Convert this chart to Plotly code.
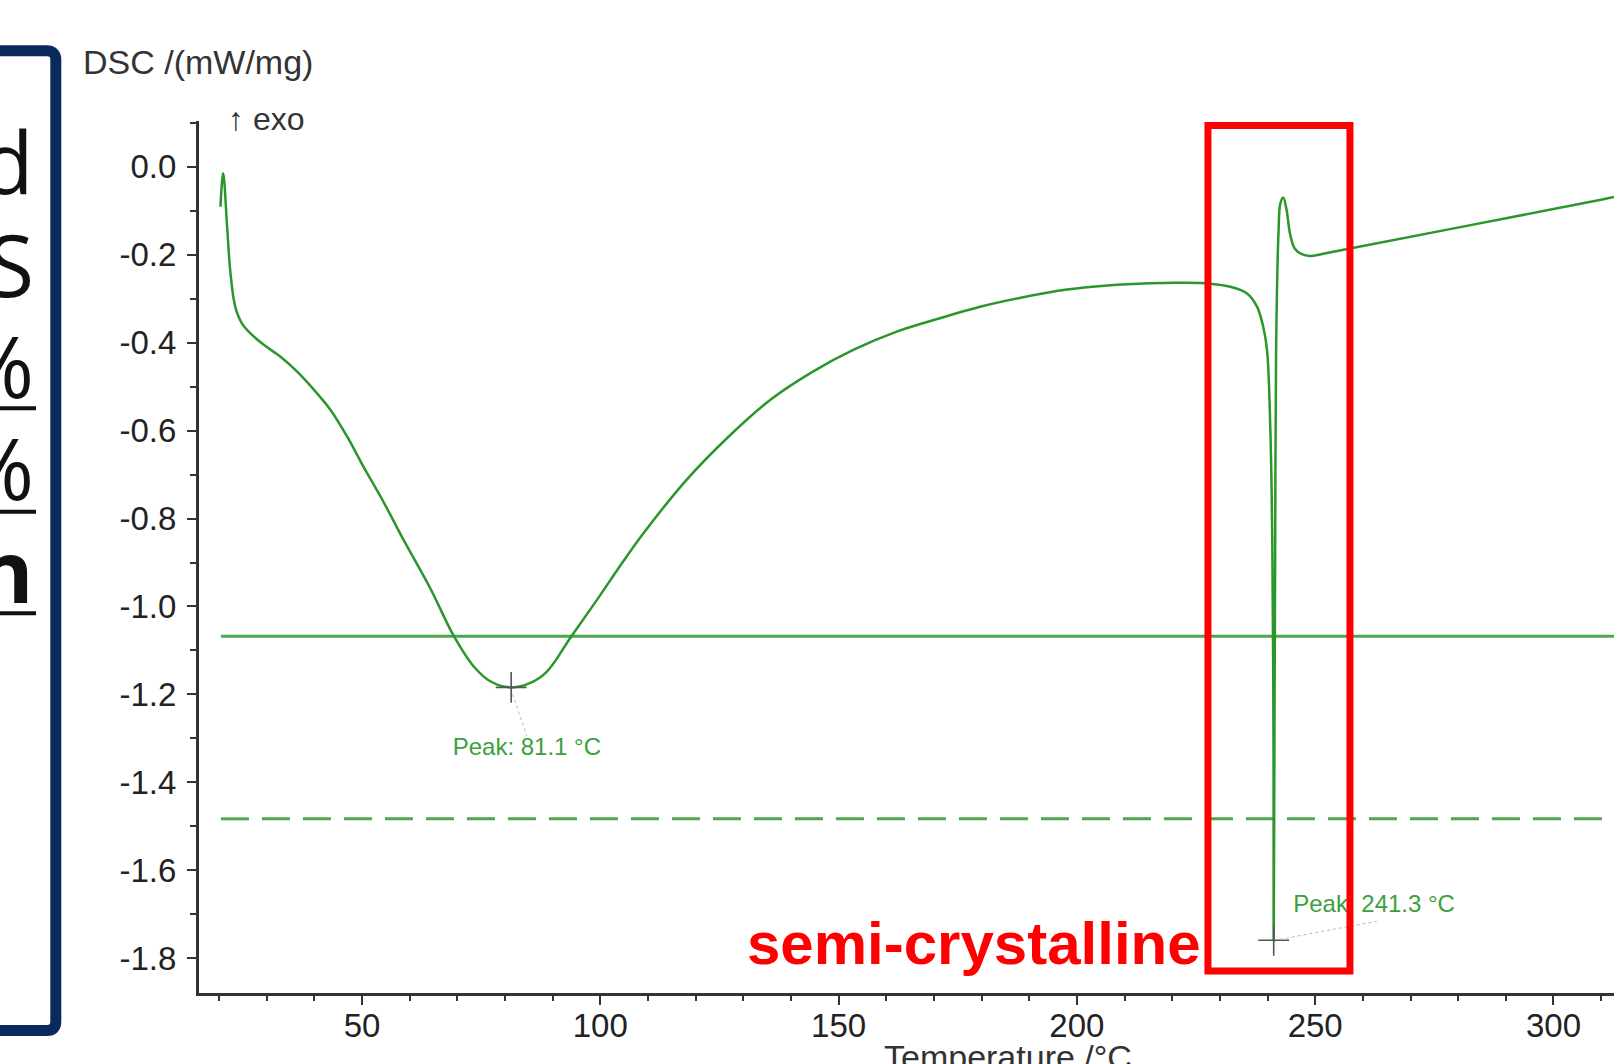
import plotly.graph_objects as go

# ---------------- data ----------------
temp = [20.3, 20.87, 21.7, 22.4, 23.4, 24.8, 26.6, 29.4, 32.9, 36.4, 39.9, 43.4, 46.9,
        50.3, 54.5, 58.7, 64.3, 69.2, 73.4, 76.9, 81.3, 85.3, 88.8, 93.8, 99.3, 104.9,
        109.3, 118.1, 126.9, 135.7, 144.6, 153.4, 162.2, 171.1, 179.9, 188.7, 197.5,
        206.4, 215.2, 222.3, 228.0, 232.2, 235.7, 237.8, 239.1, 239.9, 240.6, 241.0,
        241.25, 241.3, 241.45, 241.6, 241.8, 242.3, 242.7, 243.3, 244.0, 244.7, 245.7,
        247.2, 248.9, 251.7, 257.3, 310.5, 312.7]
dsc = [-0.091, -0.015, -0.136, -0.242, -0.318, -0.356, -0.379, -0.405, -0.432, -0.466,
       -0.507, -0.553, -0.614, -0.682, -0.762, -0.848, -0.958, -1.066, -1.136, -1.170,
       -1.184, -1.174, -1.148, -1.070, -0.985, -0.896, -0.830, -0.712, -0.614, -0.530,
       -0.466, -0.415, -0.375, -0.345, -0.318, -0.297, -0.280, -0.270, -0.265, -0.264,
       -0.266, -0.273, -0.288, -0.318, -0.364, -0.417, -0.600, -0.850, -1.300, -1.759,
       -1.300, -0.900, -0.417, -0.151, -0.083, -0.070, -0.098, -0.151, -0.186, -0.199,
       -0.203, -0.198, -0.186, -0.074, -0.069]

peak_temp = [81.3, 241.3]
peak_dsc = [-1.184, -1.759]
peak_labels = ["Peak: 81.1 °C", "Peak: 241.3 °C"]

level_solid = -1.068
level_dashed = -1.483
level_x = [20.4, 312.7]

x_tick_vals = [50, 100, 150, 200, 250, 300]
x_tick_text = ["50", "100", "150", "200", "250", "300"]
y_tick_vals = [0.0, -0.2, -0.4, -0.6, -0.8, -1.0, -1.2, -1.4, -1.6, -1.8]
y_tick_text = ["0.0", "-0.2", "-0.4", "-0.6", "-0.8", "-1.0", "-1.2", "-1.4", "-1.6", "-1.8"]

box_letters = ["d", "S", "%", "%", "<b>n</b>"]

# ---------------- layout helpers (pixels -> paper) ----------------
W, H = 1614, 1064
ML, MR, MT, MB = 199, 0, 121, 71
PW, PH = W - ML - MR, H - MT - MB


def px(x):
    return (x - ML) / PW


def py(y):
    return (H - MB - y) / PH


GREEN = "#2b962b"
LINE_GREEN = "#4ea64e"
LABEL_GREEN = "#3ca03c"
AXIS = "#333333"
FONT = "Liberation Sans, Arial, sans-serif"

fig = go.Figure()

fig.add_trace(go.Scatter(x=level_x, y=[level_solid, level_solid], mode="lines",
                         line=dict(color=LINE_GREEN, width=3), hoverinfo="skip"))
fig.add_trace(go.Scatter(x=level_x, y=[level_dashed, level_dashed], mode="lines",
                         line=dict(color=LINE_GREEN, width=3, dash="28px,13px"),
                         hoverinfo="skip"))
fig.add_trace(go.Scatter(x=temp, y=dsc, mode="lines",
                         line=dict(color=GREEN, width=2.5, shape="spline", smoothing=1.0)))
fig.add_trace(go.Scatter(x=peak_temp, y=peak_dsc, mode="markers",
                         marker=dict(symbol="cross-thin", size=22,
                                     line=dict(color="#555555", width=1.6))))

# peak labels (as a text trace so the red frame can overlay them)
label_x = [84.6, 245.4]
label_y = [-1.323, -1.682]
fig.add_trace(go.Scatter(x=label_x, y=label_y, mode="text", text=peak_labels,
                         textposition=["middle center", "middle right"],
                         textfont=dict(family=FONT, size=24, color=LABEL_GREEN)))

shapes = []
# dotted leader lines
shapes.append(dict(type="line", xref="x", yref="y", x0=81.6, y0=-1.20, x1=84.6, y1=-1.295,
                   line=dict(color="#9ccc9c", width=1, dash="dot")))
shapes.append(dict(type="line", xref="x", yref="y", x0=242.6, y0=-1.757, x1=262.9, y1=-1.716,
                   line=dict(color="#9ccc9c", width=1, dash="dot")))
# red highlight frame
shapes.append(dict(type="rect", xref="x", yref="y", x0=227.5, x1=257.3, y0=0.0936, y1=-1.829,
                   line=dict(color="#ff0000", width=7), layer="above"))

# left (cropped) text box with rounded corners
xl, xr, yt, yb, r = -60, 55.8, 50.8, 1030.5, 9
path = (f"M {px(xl)},{py(yt)} L {px(xr - r)},{py(yt)} Q {px(xr)},{py(yt)} {px(xr)},{py(yt + r)} "
        f"L {px(xr)},{py(yb - r)} Q {px(xr)},{py(yb)} {px(xr - r)},{py(yb)} L {px(xl)},{py(yb)}")
shapes.append(dict(type="path", xref="paper", yref="paper", path=path,
                   line=dict(color="#0b2a5c", width=11)))
for uy in [408.3, 511.7, 613.3]:
    shapes.append(dict(type="line", xref="paper", yref="paper", x0=px(-5), x1=px(36),
                       y0=py(uy), y1=py(uy), line=dict(color="#111111", width=4)))

annotations = []
baselines = [195, 297, 398, 500, 603]
for letter, bl in zip(box_letters, baselines):
    annotations.append(dict(text=letter, xref="paper", yref="paper", x=px(36), y=py(bl - 34),
                            xanchor="right", yanchor="middle", showarrow=False,
                            font=dict(family="Open Sans, sans-serif", size=86, color="#111111")))

annotations.append(dict(text="DSC /(mW/mg)", xref="paper", yref="paper", x=px(80.5), y=py(62),
                        xanchor="left", yanchor="middle", showarrow=False,
                        font=dict(family=FONT, size=34, color="#333333")))
annotations.append(dict(text="↑ exo", xref="paper", yref="paper", x=px(226), y=py(119),
                        xanchor="left", yanchor="middle", showarrow=False,
                        font=dict(family=FONT, size=32, color="#333333")))
annotations.append(dict(text="Temperature /°C", xref="paper", yref="paper", x=px(1008), y=py(1057),
                        xanchor="center", yanchor="middle", showarrow=False,
                        font=dict(family=FONT, size=34, color="#333333")))
annotations.append(dict(text="<b>semi-crystalline</b>", xref="paper", yref="paper",
                        x=px(974), y=py(943), xanchor="center", yanchor="middle",
                        showarrow=False,
                        font=dict(family=FONT, size=60, color="#ff0000")))

fig.update_layout(
    width=W, height=H,
    margin=dict(l=ML, r=MR, t=MT, b=MB, pad=0),
    paper_bgcolor="white", plot_bgcolor="white",
    showlegend=False,
    shapes=shapes,
    annotations=annotations,
    font=dict(family=FONT, color="#333333"),
)
fig.update_xaxes(range=[15.8, 312.7], showline=True, linecolor=AXIS, linewidth=3,
                 showgrid=False, zeroline=False, automargin=False,
                 ticks="outside", ticklen=9, tickwidth=2, tickcolor=AXIS,
                 tickmode="array", tickvals=x_tick_vals, ticktext=x_tick_text,
                 ticklabelstandoff=-8,
                 tickfont=dict(family=FONT, size=33, color="#222222"),
                 minor=dict(tickmode="array", tickvals=list(range(20, 311, 10)),
                            ticks="outside", ticklen=5, tickwidth=2, tickcolor=AXIS))
fig.update_yaxes(range=[-1.879, 0.104], showline=True, linecolor=AXIS, linewidth=3,
                 showgrid=False, zeroline=False, automargin=False,
                 ticks="outside", ticklen=9, tickwidth=2, tickcolor=AXIS,
                 tickmode="array", tickvals=y_tick_vals, ticktext=y_tick_text,
                 ticklabelstandoff=4,
                 tickfont=dict(family=FONT, size=33, color="#222222"),
                 minor=dict(tickmode="array",
                            tickvals=[-1.9, -1.7, -1.5, -1.3, -1.1, -0.9, -0.7, -0.5, -0.3, -0.1, 0.1],
                            ticks="outside", ticklen=6, tickwidth=2, tickcolor=AXIS))

fig.write_html("out.html", config={"displayModeBar": False},
               post_script="document.body.style.margin='0';document.body.style.overflow='hidden';")
